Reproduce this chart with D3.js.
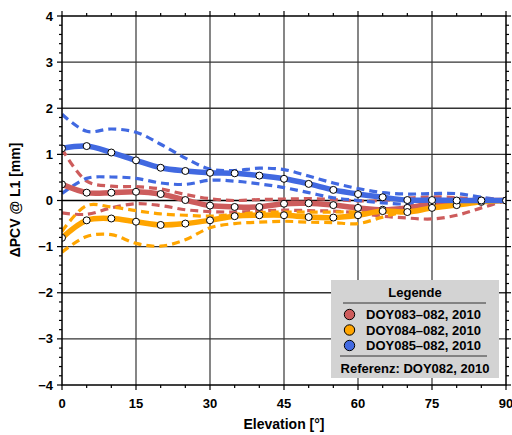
<!DOCTYPE html>
<html><head><meta charset="utf-8">
<script src="https://cdn.jsdelivr.net/npm/d3@7"></script>
<style>body{margin:0;background:#fff}svg{display:block;font-family:"Liberation Sans",Arial,sans-serif}</style>
</head><body><svg id="c" width="512" height="435"></svg>
<script>
const elevation = [0,5,10,15,20,25,30,35,40,45,50,55,60,65,70,75,80,85,90];
const xTicks = [0,15,30,45,60,75,90];
const yTicks = [-4,-3,-2,-1,0,1,2,3,4];
const seriesNames = ["DOY083\u2013082, 2010","DOY084\u2013082, 2010","DOY085\u2013082, 2010"];
const seriesColors = ["#cd5c5c","#ffa500","#4169e1"];
const red    = [0.35,0.17,0.17,0.19,0.14,0.01,-0.11,-0.14,-0.14,-0.07,-0.06,-0.10,-0.16,-0.20,-0.16,-0.07,-0.02,0.0,0];
const redUp  = [1.12,0.42,0.31,0.30,0.25,0.13,0.04,0.0,0.02,0.03,0.04,0.02,-0.01,0.0,0.05,0.08,0.06,0.02,0];
const redLo  = [-0.27,-0.30,-0.16,-0.07,-0.11,-0.20,-0.24,-0.25,-0.23,-0.21,-0.22,-0.23,-0.27,-0.34,-0.38,-0.40,-0.32,-0.16,0];
const orange   = [-0.81,-0.43,-0.39,-0.46,-0.53,-0.50,-0.43,-0.34,-0.32,-0.32,-0.36,-0.37,-0.32,-0.23,-0.25,-0.16,-0.10,-0.03,0];
const orangeUp = [-0.67,-0.11,-0.14,-0.22,-0.29,-0.32,-0.34,-0.30,-0.26,-0.25,-0.25,-0.25,-0.24,-0.20,-0.15,-0.10,-0.05,-0.02,0];
const orangeLo = [-1.12,-0.78,-0.74,-0.93,-0.99,-0.85,-0.59,-0.50,-0.47,-0.45,-0.47,-0.48,-0.50,-0.36,-0.23,-0.16,-0.10,-0.04,0];
const blue   = [1.13,1.18,1.04,0.87,0.71,0.64,0.60,0.59,0.54,0.47,0.36,0.23,0.14,0.07,0.01,0.01,0.0,0.0,0];
const blueUp = [1.87,1.50,1.55,1.48,1.22,0.92,0.68,0.65,0.70,0.67,0.53,0.38,0.26,0.17,0.14,0.15,0.15,0.07,0];
const blueLo = [0.15,0.48,0.51,0.48,0.38,0.35,0.44,0.42,0.36,0.28,0.17,0.06,0.0,-0.05,-0.08,-0.07,-0.05,-0.02,0];

const svg = d3.select("#c");
const x = d3.scaleLinear().domain([0,90]).range([62,506]);
const y = d3.scaleLinear().domain([-4,4]).range([385,16]);
const minus = s => String(s).replace("-", "\u2212");

// grid
const g = svg.append("g");
g.selectAll(".gx").data(xTicks.slice(1,-1)).join("line")
  .attr("x1",d=>x(d)).attr("x2",d=>x(d)).attr("y1",y(4)).attr("y2",y(-4))
  .attr("stroke","#444").attr("stroke-width",1.3);
g.selectAll(".gy").data(yTicks.slice(1,-1)).join("line")
  .attr("y1",d=>y(d)).attr("y2",d=>y(d)).attr("x1",x(0)).attr("x2",x(90))
  .attr("stroke",d=>d===0?"#000":"#333").attr("stroke-width",1.3);

const line = d3.line().x((d,i)=>x(elevation[i])).y(d=>y(d)).curve(d3.curveCatmullRom.alpha(0.5));
const clip = svg.append("clipPath").attr("id","pc").append("rect")
  .attr("x",x(0)).attr("y",y(4)).attr("width",x(90)-x(0)).attr("height",y(-4)-y(4));
const plot = svg.append("g").attr("clip-path","url(#pc)");

const groups = [
  {c:seriesColors[0], m:red, u:redUp, l:redLo},
  {c:seriesColors[1], m:orange, u:orangeUp, l:orangeLo},
  {c:seriesColors[2], m:blue, u:blueUp, l:blueLo}
];
groups.forEach(s=>{
  [s.u,s.l].forEach(arr=>{
    plot.append("path").attr("d",line(arr)).attr("fill","none")
      .attr("stroke",s.c).attr("stroke-width",3.2).attr("stroke-dasharray","8,5");
  });
});
groups.forEach(s=>{
  plot.append("path").attr("d",line(s.m)).attr("fill","none")
    .attr("stroke",s.c).attr("stroke-width",5.5).attr("stroke-linecap","round");
  plot.selectAll(null).data(s.m).join("circle")
    .attr("cx",(d,i)=>x(elevation[i])).attr("cy",d=>y(d)).attr("r",3.5)
    .attr("fill","#fff").attr("stroke","#000").attr("stroke-width",1);
});

// axes
const xMinor = d3.range(0,91,5), yMinor = d3.range(-4,4.001,0.2).map(v=>+v.toFixed(1));
const ax = svg.append("g");
const tk = (x1,y1,x2,y2)=>ax.append("line").attr("x1",x1).attr("y1",y1).attr("x2",x2).attr("y2",y2).attr("stroke","#000").attr("stroke-width",1.2);
xMinor.forEach(v=>{ const major = v%15===0; const L = major?5:3;
  tk(x(v),y(-4),x(v),y(-4)+L); tk(x(v),y(4),x(v),y(4)-L); });
yMinor.forEach(v=>{ const major = Math.abs(v-Math.round(v))<1e-6; const L = major?5:3;
  tk(x(0),y(v),x(0)-L,y(v)); tk(x(90),y(v),x(90)+L,y(v)); });
ax.append("rect").attr("x",x(0)).attr("y",y(4)).attr("width",x(90)-x(0)).attr("height",y(-4)-y(4))
  .attr("fill","none").attr("stroke","#000").attr("stroke-width",1.5);

ax.selectAll(".xl").data(xTicks).join("text")
  .attr("x",d=>x(d)).attr("y",408).attr("text-anchor","middle")
  .attr("font-size",13).attr("font-weight","bold").text(d=>d);
ax.selectAll(".yl").data(yTicks).join("text")
  .attr("x",53).attr("y",d=>y(d)+4.5).attr("text-anchor","end")
  .attr("font-size",13).attr("font-weight","bold").text(d=>minus(d));

svg.append("text").attr("x",284).attr("y",429).attr("text-anchor","middle")
  .attr("font-size",14).attr("font-weight","bold").text("Elevation [\u00b0]");
svg.append("text").attr("transform","translate(20,200) rotate(-90)").attr("text-anchor","middle")
  .attr("font-size",14).attr("font-weight","bold").text("\u0394PCV @ L1 [mm]");

// legend
const lg = svg.append("g");
lg.append("rect").attr("x",331).attr("y",280).attr("width",168).attr("height",98).attr("fill","#d3d3d3");
lg.append("text").attr("x",415).attr("y",297).attr("text-anchor","middle").attr("font-size",13).attr("font-weight","bold").text("Legende");
lg.append("line").attr("x1",343).attr("x2",486).attr("y1",303).attr("y2",303).attr("stroke","#333").attr("stroke-width",1);
seriesNames.forEach((n,i)=>{
  const yy = 314.5 + i*15.5;
  lg.append("circle").attr("cx",349.5).attr("cy",yy).attr("r",5.2).attr("fill",seriesColors[i]).attr("stroke","#000").attr("stroke-width",1);
  lg.append("text").attr("x",366).attr("y",yy+4.6).attr("font-size",13).attr("font-weight","bold").text(n);
});
lg.append("line").attr("x1",340).attr("x2",487).attr("y1",356).attr("y2",356).attr("stroke","#333").attr("stroke-width",1);
lg.append("text").attr("x",415).attr("y",373).attr("text-anchor","middle").attr("font-size",13).attr("font-weight","bold").text("Referenz: DOY082, 2010");
</script></body></html>
